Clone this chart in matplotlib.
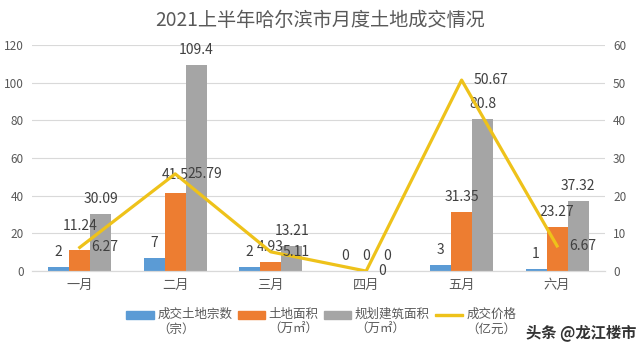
import numpy as np
import matplotlib
matplotlib.use('Agg')
import matplotlib.pyplot as plt
from matplotlib.patches import Patch, Rectangle
from matplotlib.legend_handler import HandlerPatch

plt.rcParams['font.family'] = ['Noto Sans CJK SC', 'DejaVu Sans']

months = ['一月', '二月', '三月', '四月', '五月', '六月']
deals = [2, 7, 2, 0, 3, 1]
land_area = [11.24, 41.5, 4.93, 0, 31.35, 23.27]
build_area = [30.09, 109.4, 13.21, 0, 80.8, 37.32]
price = [6.27, 25.79, 5.11, 0, 50.67, 6.67]

names = ['成交土地宗数\n（宗）', '土地面积\n（万㎡）', '规划建筑面积\n（万㎡）', '成交价格\n（亿元）']
colors = ['#5B9BD5', '#ED7D31', '#A5A5A5', '#EEC21A']
txt = '#595959'

fig = plt.figure(figsize=(6.4, 3.48), dpi=100)
ax = fig.add_axes([0.05, 0.221, 0.895, 0.65])
ax2 = ax.twinx()

x = np.arange(len(months))
w = 0.22
# label lift above each bar (pixels)
lifts = [[15] * 6, [24, 18, 15, 15, 15, 15], [15] * 6]
for i, vals in enumerate([deals, land_area, build_area]):
    xs = x + (i - 1) * w
    ax.bar(xs, vals, w, color=colors[i], zorder=2)
    for xi, v, dy in zip(xs, vals, lifts[i]):
        ax.annotate(f'{v:g}', (xi, v), xytext=(0, dy), textcoords='offset pixels',
                    ha='center', va='center', fontsize=10, color='#404040', zorder=5)

ax2.plot(x, price, color=colors[3], lw=2.3, zorder=3)
for xi, v in zip(x, price):
    ax2.annotate(f'{v:g}', (xi, v), xytext=(12, 0), textcoords='offset pixels',
                 ha='left', va='center', fontsize=10, color='#404040')

ax.set_xlim(-0.5, 5.5)
ax.set_ylim(0, 120)
ax.set_yticks(range(0, 121, 20))
ax2.set_ylim(0, 60)
ax2.set_yticks(range(0, 61, 10))
ax.set_xticks(x)
ax.set_xticklabels(months)
ax.yaxis.grid(True, color='#D9D9D9', lw=0.8, zorder=0)
ax.set_axisbelow(True)
for a in (ax, ax2):
    for s in ['top', 'left', 'right']:
        a.spines[s].set_visible(False)
    a.spines['bottom'].set_color('#D9D9D9')
    a.tick_params(length=0, labelsize=8.5, labelcolor=txt, pad=6)
ax.tick_params(axis='x', pad=6, labelsize=9.5)

fig.text(0.5, 0.94, '2021上半年哈尔滨市月度土地成交情况', ha='center', va='center',
         fontsize=13.8, color=txt)


def bar_key(legend, orig_handle, xdescent, ydescent, width, height, fontsize):
    return Rectangle((-xdescent, -ydescent + 0.6 * fontsize), width, height)


def line_key(legend, orig_handle, xdescent, ydescent, width, height, fontsize):
    h = 0.35 * height
    return Rectangle((-xdescent, -ydescent + height / 2 - h / 2 + 0.6 * fontsize), width, h)


handles = [Patch(color=c) for c in colors]
hmap = {h: HandlerPatch(patch_func=bar_key) for h in handles[:3]}
hmap[handles[3]] = HandlerPatch(patch_func=line_key)
fig.legend(handles, names, handler_map=hmap, loc='center', bbox_to_anchor=(0.502, 0.075),
           ncol=4, frameon=False, fontsize=9, handlelength=2.2, handleheight=0.55,
           columnspacing=0.4, handletextpad=0.3, labelcolor=txt, borderpad=0)

fig.text(0.995, 0.045, '头条 @龙江楼市', ha='right', va='center', fontsize=11,
         color='#333333', fontweight='bold')

fig.savefig('out.png', dpi=100)
